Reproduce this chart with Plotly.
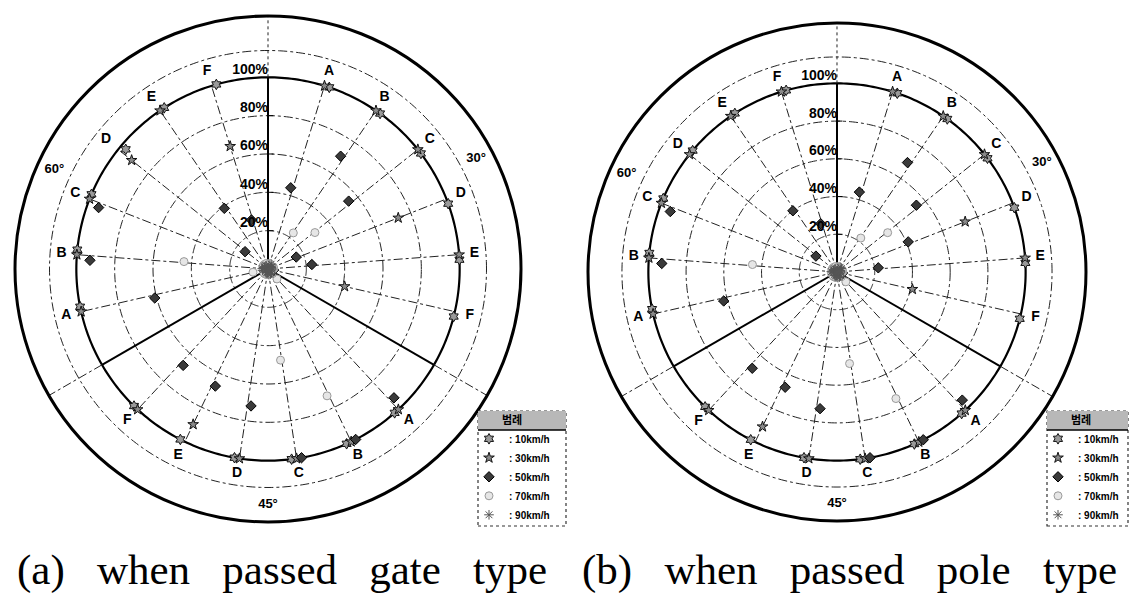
import numpy as np
import plotly.graph_objects as go

W, H = 1129, 594

# ---------------- data ----------------
speeds = ["10km/h", "30km/h", "50km/h", "70km/h", "90km/h"]
letters = ["A", "B", "C", "D", "E", "F"]
sectors = ["30°", "60°", "45°"]
pct_ticks = [20, 40, 60, 80, 100]
pct_labels = ["20%", "40%", "60%", "80%", "100%"]

# detection ratio [%] : rows = spoke A..F, cols = speeds 10,30,50,70,90 km/h
gate_30deg = [[100, 100, 44, 3, 2], [100, 100, 70, 23, 3], [100, 100, 55, 31, 2],
              [100, 73, 16, 3, 2], [100, 100, 23, 3, 2], [100, 41, 3, 2, 2]]
gate_60deg = [[100, 100, 61, 8, 3], [100, 100, 93, 44, 3], [100, 100, 94, 3, 2],
              [97, 91, 15, 3, 2], [100, 100, 39, 3, 2], [100, 67, 27, 3, 2]]
gate_45deg = [[100, 100, 94, 7, 3], [100, 100, 100, 73, 3], [100, 100, 100, 48, 3],
              [100, 100, 72, 3, 2], [100, 90, 67, 3, 2], [100, 100, 67, 3, 2]]

pole_30deg = [[100, 100, 44, 3, 2], [100, 100, 69, 22, 3], [100, 100, 55, 34, 3],
              [100, 73, 41, 3, 2], [100, 100, 22, 3, 2], [100, 41, 3, 2, 2]]
pole_60deg = [[100, 100, 62, 3, 2], [100, 100, 93, 45, 3], [100, 100, 94, 3, 2],
              [100, 100, 14, 3, 2], [100, 100, 40, 3, 2], [100, 100, 27, 3, 2]]
pole_45deg = [[100, 100, 95, 7, 3], [100, 100, 100, 74, 3], [100, 100, 100, 49, 3],
              [100, 100, 73, 3, 2], [100, 91, 67, 3, 2], [100, 100, 68, 3, 2]]

caption_words = [["(a)", "when", "passed", "gate", "type"],
                 ["(b)", "when", "passed", "pole", "type"]]
legend_title = "범례"

# ---------------- layout constants ----------------
sector_start = [90, 210, 330]          # each sector spans 120 deg clockwise from start
sector_label_theta = [28, 155, 270]
step = 120 / 7
R_MAX = 132
speed_dodge = [-1.5, 0.0, 1.5, -0.75, 0.75]
marker_symbols = ["hexagram", "star", "diamond", "circle", "asterisk-open"]
marker_fill = ["#9a9a9a", "#8a8a8a", "#3a3a3a", "#e6e6e6", "#555555"]
marker_line = ["#111111", "#111111", "#000000", "#9a9a9a", "#111111"]

FONT = "Liberation Sans"
fig = go.Figure()

full = np.linspace(0, 360, 361)


def build(subplot, legend_id, data_by_sector):
    # grid circles
    for r in [20, 40, 60, 80, 114]:
        fig.add_trace(go.Scatterpolar(r=[r] * len(full), theta=full, mode="lines",
                                      line=dict(color="#222", width=1, dash="dashdot"),
                                      hoverinfo="skip", showlegend=False, subplot=subplot))
    fig.add_trace(go.Scatterpolar(r=[100] * len(full), theta=full, mode="lines",
                                  line=dict(color="black", width=2.2),
                                  hoverinfo="skip", showlegend=False, subplot=subplot))
    # spokes
    for s, start in enumerate(sector_start):
        for k in range(6):
            th = start - (k + 1) * step
            fig.add_trace(go.Scatterpolar(r=[0, 100], theta=[th, th], mode="lines",
                                          line=dict(color="#222", width=1, dash="dashdot"),
                                          hoverinfo="skip", showlegend=False, subplot=subplot))
        # sector dividers
        fig.add_trace(go.Scatterpolar(r=[0, 100], theta=[start, start], mode="lines",
                                      line=dict(color="black", width=2),
                                      hoverinfo="skip", showlegend=False, subplot=subplot))
        fig.add_trace(go.Scatterpolar(r=[100, R_MAX], theta=[start, start], mode="lines",
                                      line=dict(color="#222", width=1,
                                                dash="dot" if start == 90 else "dashdot"),
                                      hoverinfo="skip", showlegend=False, subplot=subplot))
    # data markers
    for j, sp in enumerate(speeds):
        rr, tt = [], []
        for s, start in enumerate(sector_start):
            vals = data_by_sector[s]
            for k in range(6):
                rr.append(vals[k][j])
                tt.append(start - (k + 1) * step + speed_dodge[j])
        fig.add_trace(go.Scatterpolar(
            r=rr, theta=tt, mode="markers", name="<b>: " + sp + "</b>",
            marker=dict(symbol=marker_symbols[j], size=8, color=marker_fill[j],
                        line=dict(color=marker_line[j], width=1)),
            showlegend=True, legend=legend_id, subplot=subplot))
    # letter labels
    lr, lt, ltxt = [], [], []
    for s, start in enumerate(sector_start):
        for k in range(6):
            lr.append(108)
            lt.append(start - (k + 1) * step)
            ltxt.append("<b>" + letters[k] + "</b>")
    fig.add_trace(go.Scatterpolar(r=lr, theta=lt, text=ltxt, mode="text",
                                  textfont=dict(family=FONT, size=14, color="black"),
                                  hoverinfo="skip", showlegend=False, subplot=subplot))
    # sector labels
    fig.add_trace(go.Scatterpolar(r=[123] * 3, theta=sector_label_theta,
                                  text=["<b>" + t + "</b>" for t in sectors], mode="text",
                                  textfont=dict(family=FONT, size=13, color="black"),
                                  hoverinfo="skip", showlegend=False, subplot=subplot))
    # percent labels
    fig.add_trace(go.Scatterpolar(r=pct_ticks, theta=[90] * len(pct_ticks),
                                  text=["<b>" + t + "</b>" for t in pct_labels], mode="text",
                                  textposition="top left",
                                  textfont=dict(family=FONT, size=14, color="black"),
                                  hoverinfo="skip", showlegend=False, subplot=subplot))


build("polar", "legend", [gate_30deg, gate_60deg, gate_45deg])
build("polar2", "legend2", [pole_30deg, pole_60deg, pole_45deg])

polar_common = dict(
    bgcolor="white",
    radialaxis=dict(range=[0, R_MAX], showgrid=False, showline=False, showticklabels=False,
                    ticks="outside", ticklen=5, tickcolor="black", tickvals=pct_ticks,
                    angle=90, side="clockwise"),
    angularaxis=dict(showgrid=False, showticklabels=False, ticks="", showline=True,
                     linecolor="black", linewidth=3, rotation=0, direction="counterclockwise"),
)


def px_x(x):
    return x / W


def px_y(y):
    return 1 - y / H


legend_common = dict(
    bgcolor="rgba(0,0,0,0)", borderwidth=0, xanchor="left", yanchor="top",
    font=dict(family=FONT, size=10, color="black"),
    title=dict(text="<b>" + legend_title + "</b>", side="top center",
               font=dict(family="Noto Sans CJK KR", size=11, color="black")),
    tracegroupgap=0,
)

shapes = []
annotations = []
for (bx0, bx1) in [(478, 566), (1047, 1128)]:
    shapes.append(dict(type="rect", xref="paper", yref="paper",
                       x0=px_x(bx0), x1=px_x(bx1), y0=px_y(526), y1=px_y(411),
                       fillcolor="white", line=dict(color="#333", width=1.2, dash="dot"),
                       layer="above"))
    shapes.append(dict(type="rect", xref="paper", yref="paper",
                       x0=px_x(bx0), x1=px_x(bx1), y0=px_y(430), y1=px_y(411),
                       fillcolor="#b8b8b8", line=dict(width=0), layer="above"))
    shapes.append(dict(type="line", xref="paper", yref="paper",
                       x0=px_x(bx0), x1=px_x(bx1), y0=px_y(430), y1=px_y(430),
                       line=dict(color="black", width=1.5), layer="above"))

SP = "\u00a0\u00a0 "
for i, words in enumerate(caption_words):
    annotations.append(dict(text=SP.join(words), xref="paper", yref="paper",
                            x=px_x([15, 580][i]), y=px_y(570), xanchor="left", yanchor="middle",
                            showarrow=False,
                            font=dict(family="Liberation Serif", size=43, color="black")))

fig.update_layout(
    width=W, height=H, margin=dict(l=0, r=0, t=0, b=0),
    paper_bgcolor="white", plot_bgcolor="white",
    polar=dict(domain=dict(x=[0.01329, 0.46147], y=[0.1212, 0.9731]), **polar_common),
    polar2=dict(domain=dict(x=[0.52081, 0.96191], y=[0.1229, 0.96128]), **polar_common),
    legend=dict(x=px_x(469), y=px_y(410), **legend_common),
    legend2=dict(x=px_x(1038), y=px_y(410), **legend_common),
    shapes=shapes, annotations=annotations,
)

fig.write_html("out.html", config={"displayModeBar": False},
               post_script="document.body.style.margin='0px';")
